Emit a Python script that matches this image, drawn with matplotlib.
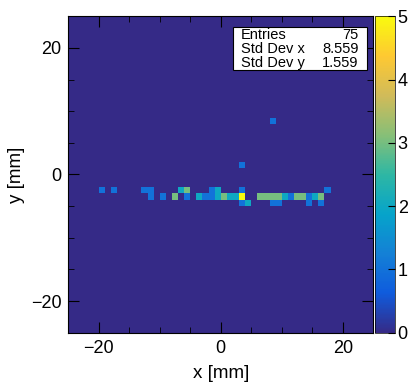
import numpy as np
import matplotlib
matplotlib.use("Agg")
import matplotlib.pyplot as plt
from matplotlib.colors import LinearSegmentedColormap
from matplotlib.ticker import MultipleLocator

plt.rcParams['font.family'] = ['Liberation Sans', 'DejaVu Sans']

# filled bins: bin centre x, bin centre y, content
bin_x = [-19.5, -17.5, -12.5, -11.5, -6.5, -5.5, -1.5, -0.5, 3.5, 17.5,
         -11.5, -9.5, -7.5, -5.5, -3.5, -2.5, -1.5, -0.5, 0.5, 1.5, 2.5, 3.5,
         6.5, 7.5, 8.5, 9.5, 10.5, 11.5, 12.5, 13.5, 14.5, 15.5, 16.5,
         3.5, 4.5, 8.5, 9.5, 14.5, 16.5,
         8.5, 3.5]
bin_y = [-2.5] * 10 + [-3.5] * 23 + [-4.5] * 6 + [8.5, 1.5]
counts = [1, 1, 1, 1, 2, 3, 1, 2, 1, 1,
          1, 1, 3, 1, 2, 1, 1, 2, 3, 2, 2, 5,
          3, 3, 3, 3, 2, 1, 3, 3, 1, 2, 3,
          1, 2, 1, 1, 1, 1,
          1, 1]

stats_labels = ['Entries', 'Std Dev x', 'Std Dev y']
stats_values = ['75', '8.559', '1.559']

# ROOT kBird palette
stops = [0.0, 0.125, 0.25, 0.375, 0.5, 0.625, 0.75, 0.875, 1.0]
red = [0.2082, 0.0592, 0.0780, 0.0232, 0.1802, 0.5301, 0.8186, 0.9956, 0.9764]
green = [0.1664, 0.3599, 0.5041, 0.6419, 0.7178, 0.7492, 0.7328, 0.7862, 0.9832]
blue = [0.5293, 0.8684, 0.8385, 0.7914, 0.6425, 0.4662, 0.3499, 0.1968, 0.0539]
bird = LinearSegmentedColormap.from_list(
    'bird', list(zip(stops, zip(red, green, blue))), N=255)

hist, xedges, yedges = np.histogram2d(bin_x, bin_y, bins=50,
                                      range=[[-25, 25], [-25, 25]],
                                      weights=counts)

fig = plt.figure(figsize=(4.08, 3.85), dpi=100)
ax = fig.add_axes([0.1674, 0.1358, 0.7475, 0.822])
mesh = ax.pcolormesh(xedges, yedges, hist.T, cmap=bird, vmin=0, vmax=5)

ax.set_xlim(-25, 25)
ax.set_ylim(-25, 25)
ax.xaxis.set_major_locator(MultipleLocator(20))
ax.xaxis.set_minor_locator(MultipleLocator(5))
ax.yaxis.set_major_locator(MultipleLocator(20))
ax.yaxis.set_minor_locator(MultipleLocator(5))
ax.tick_params(which='both', direction='in', top=True, right=True,
               labelsize=13, pad=5)
ax.tick_params(which='major', length=8)
ax.tick_params(which='minor', length=4)
for s in ax.spines.values():
    s.set_linewidth(0.8)

ax.set_xlabel('x [mm]', fontsize=13.5, labelpad=6)
ax.set_ylabel('y [mm]', fontsize=13.5, labelpad=4)

# stats box
ax.add_patch(plt.Rectangle((0.54, 0.829), 0.439, 0.137, transform=ax.transAxes,
                           facecolor='white', edgecolor='black', lw=0.8,
                           zorder=5))
for i, (lab, val) in enumerate(zip(stats_labels, stats_values)):
    yy = 0.942 - i * 0.0455
    ax.text(0.565, yy, lab, transform=ax.transAxes, fontsize=10.5,
            va='center', ha='left', zorder=6)
    ax.text(0.952, yy, val, transform=ax.transAxes, fontsize=10.5,
            va='center', ha='right', zorder=6)

cax = fig.add_axes([0.919, 0.1358, 0.049, 0.822])
cbar = fig.colorbar(mesh, cax=cax, ticks=range(0, 6))
cbar.outline.set_linewidth(0.5)
cax.tick_params(direction='in', length=5, labelsize=13, pad=2)

fig.savefig('out.png', dpi=100)
